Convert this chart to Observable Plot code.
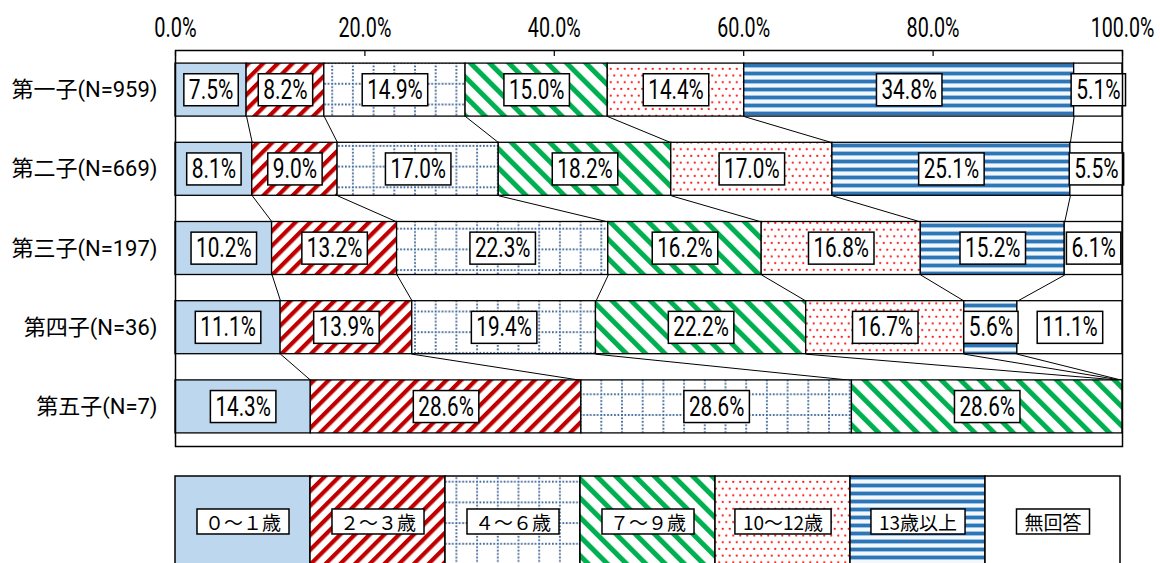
<!DOCTYPE html>
<html>
<head>
<meta charset="utf-8">
<script src="https://cdn.jsdelivr.net/npm/d3@7"></script>
<script src="https://cdn.jsdelivr.net/npm/@observablehq/plot@0.6"></script>
<style>
  body { margin: 0; background: white; }
  #wrap { width: 1160px; height: 563px; overflow: hidden; position: relative; background: white; }
  #wrap svg { display: block; }
</style>
</head>
<body>
<svg width="0" height="0" style="position:absolute">
  <defs>
    <pattern id="pRed" patternUnits="userSpaceOnUse" width="10.4" height="10.4" patternTransform="rotate(45)">
      <rect width="10.4" height="10.4" fill="white"/>
      <rect width="4.2" height="10.4" fill="#C00000"/>
    </pattern>
    <pattern id="pGrid" patternUnits="userSpaceOnUse" width="20.7" height="20.7">
      <rect width="20.7" height="20.7" fill="white"/>
      <line x1="0" y1="1" x2="20.7" y2="1" stroke="#41699A" stroke-width="1.9" stroke-dasharray="1.7 1.75"/>
      <line x1="1" y1="0" x2="1" y2="20.7" stroke="#41699A" stroke-width="1.9" stroke-dasharray="1.7 1.75"/>
    </pattern>
    <pattern id="pGreen" patternUnits="userSpaceOnUse" width="13.6" height="13.6" patternTransform="rotate(-45)">
      <rect width="13.6" height="13.6" fill="white"/>
      <rect width="5" height="13.6" fill="#00B050"/>
    </pattern>
    <pattern id="pDots" patternUnits="userSpaceOnUse" width="7" height="13.4">
      <rect width="7" height="13.4" fill="white"/>
      <circle cx="1.75" cy="1.75" r="1.15" fill="#FF2020"/>
      <circle cx="5.25" cy="8.45" r="1.15" fill="#FF2020"/>
    </pattern>
    <pattern id="pBlue" patternUnits="userSpaceOnUse" width="8" height="8">
      <rect width="8" height="8" fill="#F4F8FC"/>
      <rect y="0" width="8" height="3" fill="#2E75B6"/>
      <rect y="3" width="8" height="1" fill="#9DC3E6"/>
      <rect y="7" width="8" height="1" fill="#9DC3E6"/>
    </pattern>
  </defs>
</svg>
<div id="wrap"></div>
<script>
// ---- data ----
const rows = ["第一子(N=959)", "第二子(N=669)", "第三子(N=197)", "第四子(N=36)", "第五子(N=7)"];
const categories = ["０～１歳", "２～３歳", "４～６歳", "７～９歳", "10～12歳", "13歳以上", "無回答"];
const age0to1   = [7.5, 8.1, 10.2, 11.1, 14.3];
const age2to3   = [8.2, 9.0, 13.2, 13.9, 28.6];
const age4to6   = [14.9, 17.0, 22.3, 19.4, 28.6];
const age7to9   = [15.0, 18.2, 16.2, 22.2, 28.6];
const age10to12 = [14.4, 17.0, 16.8, 16.7, 0];
const age13plus = [34.8, 25.1, 15.2, 5.6, 0];
const noAnswer  = [5.1, 5.5, 6.1, 11.1, 0];
const xTicks = [0, 20, 40, 60, 80, 100];

const series = [age0to1, age2to3, age4to6, age7to9, age10to12, age13plus, noAnswer];
const fills = ["#BDD7EE", "url(#pRed)", "url(#pGrid)", "url(#pGreen)", "url(#pDots)", "url(#pBlue)", "white"];

// long table
const table = [];
rows.forEach((r, i) => categories.forEach((c, j) => table.push({row: i, name: r, cat: c, value: series[j][i]})));

// connector lines between consecutive rows at cumulative boundaries
const H = 0.3346; // half bar thickness in row units
const cum = rows.map((r, i) => {
  const vals = series.map(s => s[i]);
  const total = d3.sum(vals);
  return Array.from(d3.cumsum(vals), v => v / total);
});
const links = [];
for (let i = 0; i < rows.length - 1; i++) {
  for (let j = 0; j < categories.length - 1; j++) {
    links.push({x1: cum[i][j], y1: i + H, x2: cum[i + 1][j], y2: i + 1 - H});
  }
}

const FONT = "Roboto, 'Noto Sans CJK JP', sans-serif";

const chart = Plot.plot({
  width: 1160,
  height: 460,
  marginLeft: 175,
  marginRight: 38,
  marginTop: 50,
  marginBottom: 14,
  style: {fontFamily: FONT, color: "black", background: "white"},
  x: {domain: [0, 1]},
  y: {domain: [-0.5, rows.length - 0.5], reverse: true},
  color: {domain: categories, range: fills},
  marks: [
    Plot.link(links, {x1: "x1", y1: "y1", x2: "x2", y2: "y2", stroke: "black", strokeWidth: 1}),
    Plot.rect(table, Plot.stackX({
      x: "value", y1: d => d.row - H, y2: d => d.row + H, z: "cat",
      fill: "cat", stroke: "black", strokeWidth: 1.3, offset: "normalize", order: null
    })),
    Plot.text(table.filter(d => d.value > 0), Plot.stackX({
      x: "value", y: "row", z: "cat", offset: "normalize", order: null,
      text: d => d.value.toFixed(1) + "%", fontSize: 27, fill: "black"
    })),
    Plot.frame({stroke: "black", strokeWidth: 1.5}),
    Plot.axisX({anchor: "top", ticks: xTicks.map(t => t / 100), tickSize: 0, tickPadding: 14,
      tickFormat: d => (d * 100).toFixed(1) + "%", fontSize: 27, label: null}),
    Plot.axisX({anchor: "top", ticks: xTicks.map(t => t / 100), tickSize: -5,
      tickFormat: () => "", label: null, strokeWidth: 1.2}),
    Plot.axisY({ticks: rows.map((r, i) => i), tickFormat: i => rows[i], tickSize: 0, tickPadding: 18,
      fontSize: 22, label: null})
  ]
});

const legend = Plot.plot({
  width: 1160,
  height: 140,
  marginLeft: 175,
  marginRight: 40,
  marginTop: 16,
  marginBottom: 0,
  style: {fontFamily: "'Noto Sans CJK JP', sans-serif", color: "black", background: "white"},
  x: {domain: categories, padding: 0, axis: null},
  color: {domain: categories, range: fills},
  marks: [
    Plot.cell(categories, {x: d => d, fill: d => d, stroke: "black", strokeWidth: 1.5}),
    Plot.text(categories, {x: d => d, text: d => d, frameAnchor: "top", dy: 40, fontSize: 19, fill: "black"})
  ]
});

const wrap = document.getElementById("wrap");
wrap.appendChild(chart);
wrap.appendChild(legend);

// narrow, evenly spaced numerals like the reference
function condense(selector, perChar) {
  chart.querySelectorAll(selector).forEach(t => {
    const s = t.textContent;
    if (!s) return;
    t.setAttribute("textLength", s.length * perChar);
    t.setAttribute("lengthAdjust", "spacingAndGlyphs");
  });
}
condense('g[aria-label="text"] text', 11.1);
condense('g[aria-label="x-axis tick label"] text', 10.6);

function boxLabels(svg, padX, padY) {
  svg.querySelectorAll('g[aria-label="text"] text').forEach(t => {
    const b = t.getBBox();
    const r = document.createElementNS("http://www.w3.org/2000/svg", "rect");
    r.setAttribute("x", b.x - padX);
    r.setAttribute("y", b.y - padY);
    r.setAttribute("width", b.width + 2 * padX);
    r.setAttribute("height", b.height + 2 * padY);
    r.setAttribute("fill", "white");
    r.setAttribute("stroke", "black");
    r.setAttribute("stroke-width", "1.5");
    const tr = t.getAttribute("transform");
    if (tr) r.setAttribute("transform", tr);
    t.parentNode.insertBefore(r, t);
  });
}
boxLabels(chart, 5, 0);
boxLabels(legend, 8, -1);
</script>
</body>
</html>
